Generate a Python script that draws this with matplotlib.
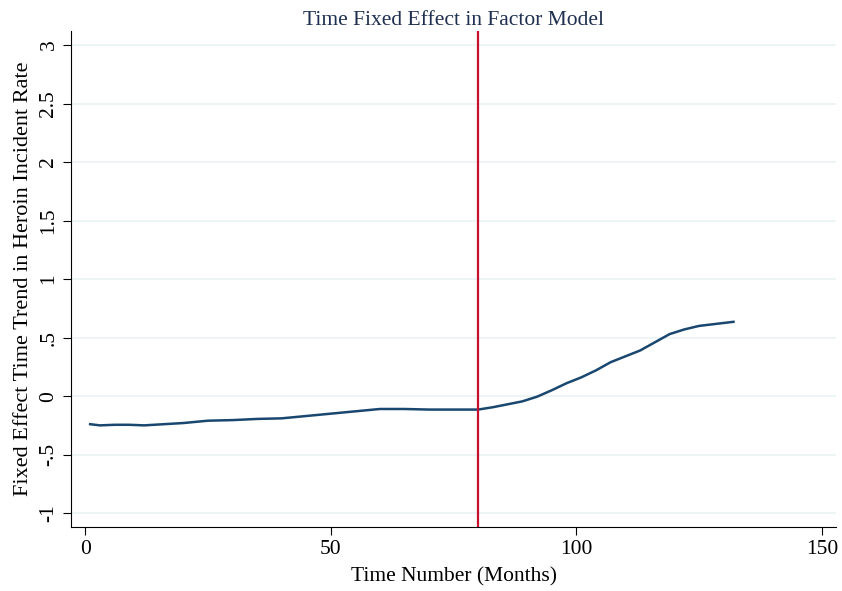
import numpy as np
import matplotlib.pyplot as plt

# values (months, fixed effect)
months = [1, 3, 6, 9, 12, 16, 20, 25, 30, 35, 40, 45, 50, 55, 60, 65, 70, 75, 80,
          83, 86, 89, 92, 95, 98, 101, 104, 107, 110, 113, 116, 119, 122, 125, 128, 132]
effect = [-0.24, -0.25, -0.245, -0.245, -0.25, -0.24, -0.23, -0.21, -0.205, -0.195,
          -0.19, -0.17, -0.15, -0.13, -0.11, -0.11, -0.115, -0.115, -0.115,
          -0.095, -0.07, -0.045, -0.005, 0.05, 0.11, 0.16, 0.22, 0.29, 0.34, 0.39,
          0.46, 0.53, 0.57, 0.60, 0.615, 0.635]
treat_month = 80

yticks = [-1, -0.5, 0, 0.5, 1, 1.5, 2, 2.5, 3]
ytick_labels = ['-1', '-.5', '0', '.5', '1', '1.5', '2', '2.5', '3']
xticks = [0, 50, 100, 150]

plt.rcParams['font.family'] = ['Liberation Serif', 'DejaVu Serif']

fig = plt.figure(figsize=(8.42, 5.91), dpi=100)
ax = fig.add_axes([0.0843, 0.108, 0.9087, 0.8395])

ax.plot(months, effect, color='#1a476f', lw=1.8, zorder=3)
ax.axvline(treat_month, color='#c8102e', lw=1.6, zorder=4)

ax.set_xlim(-2.9, 152.9)
ax.set_ylim(-1.12, 3.12)
ax.set_yticks(yticks)
ax.set_yticklabels(ytick_labels, rotation=90, va='center')
ax.set_xticks(xticks)
ax.grid(axis='y', color='#eaf2f3', lw=1.2)
ax.set_axisbelow(True)
for s in ['top', 'right']:
    ax.spines[s].set_visible(False)
ax.tick_params(labelsize=15.5, length=6, color='black')
ax.tick_params(axis='y', pad=3)
ax.tick_params(axis='x', pad=3)

ax.set_title('Time Fixed Effect in Factor Model', fontsize=15.5, color='#1e2f4f', pad=4)
ax.set_xlabel('Time Number (Months)', fontsize=15.5, labelpad=6)
ax.set_ylabel('Fixed Effect Time Trend in Heroin Incident Rate', fontsize=16, labelpad=5)

fig.savefig('out.png', dpi=100)
